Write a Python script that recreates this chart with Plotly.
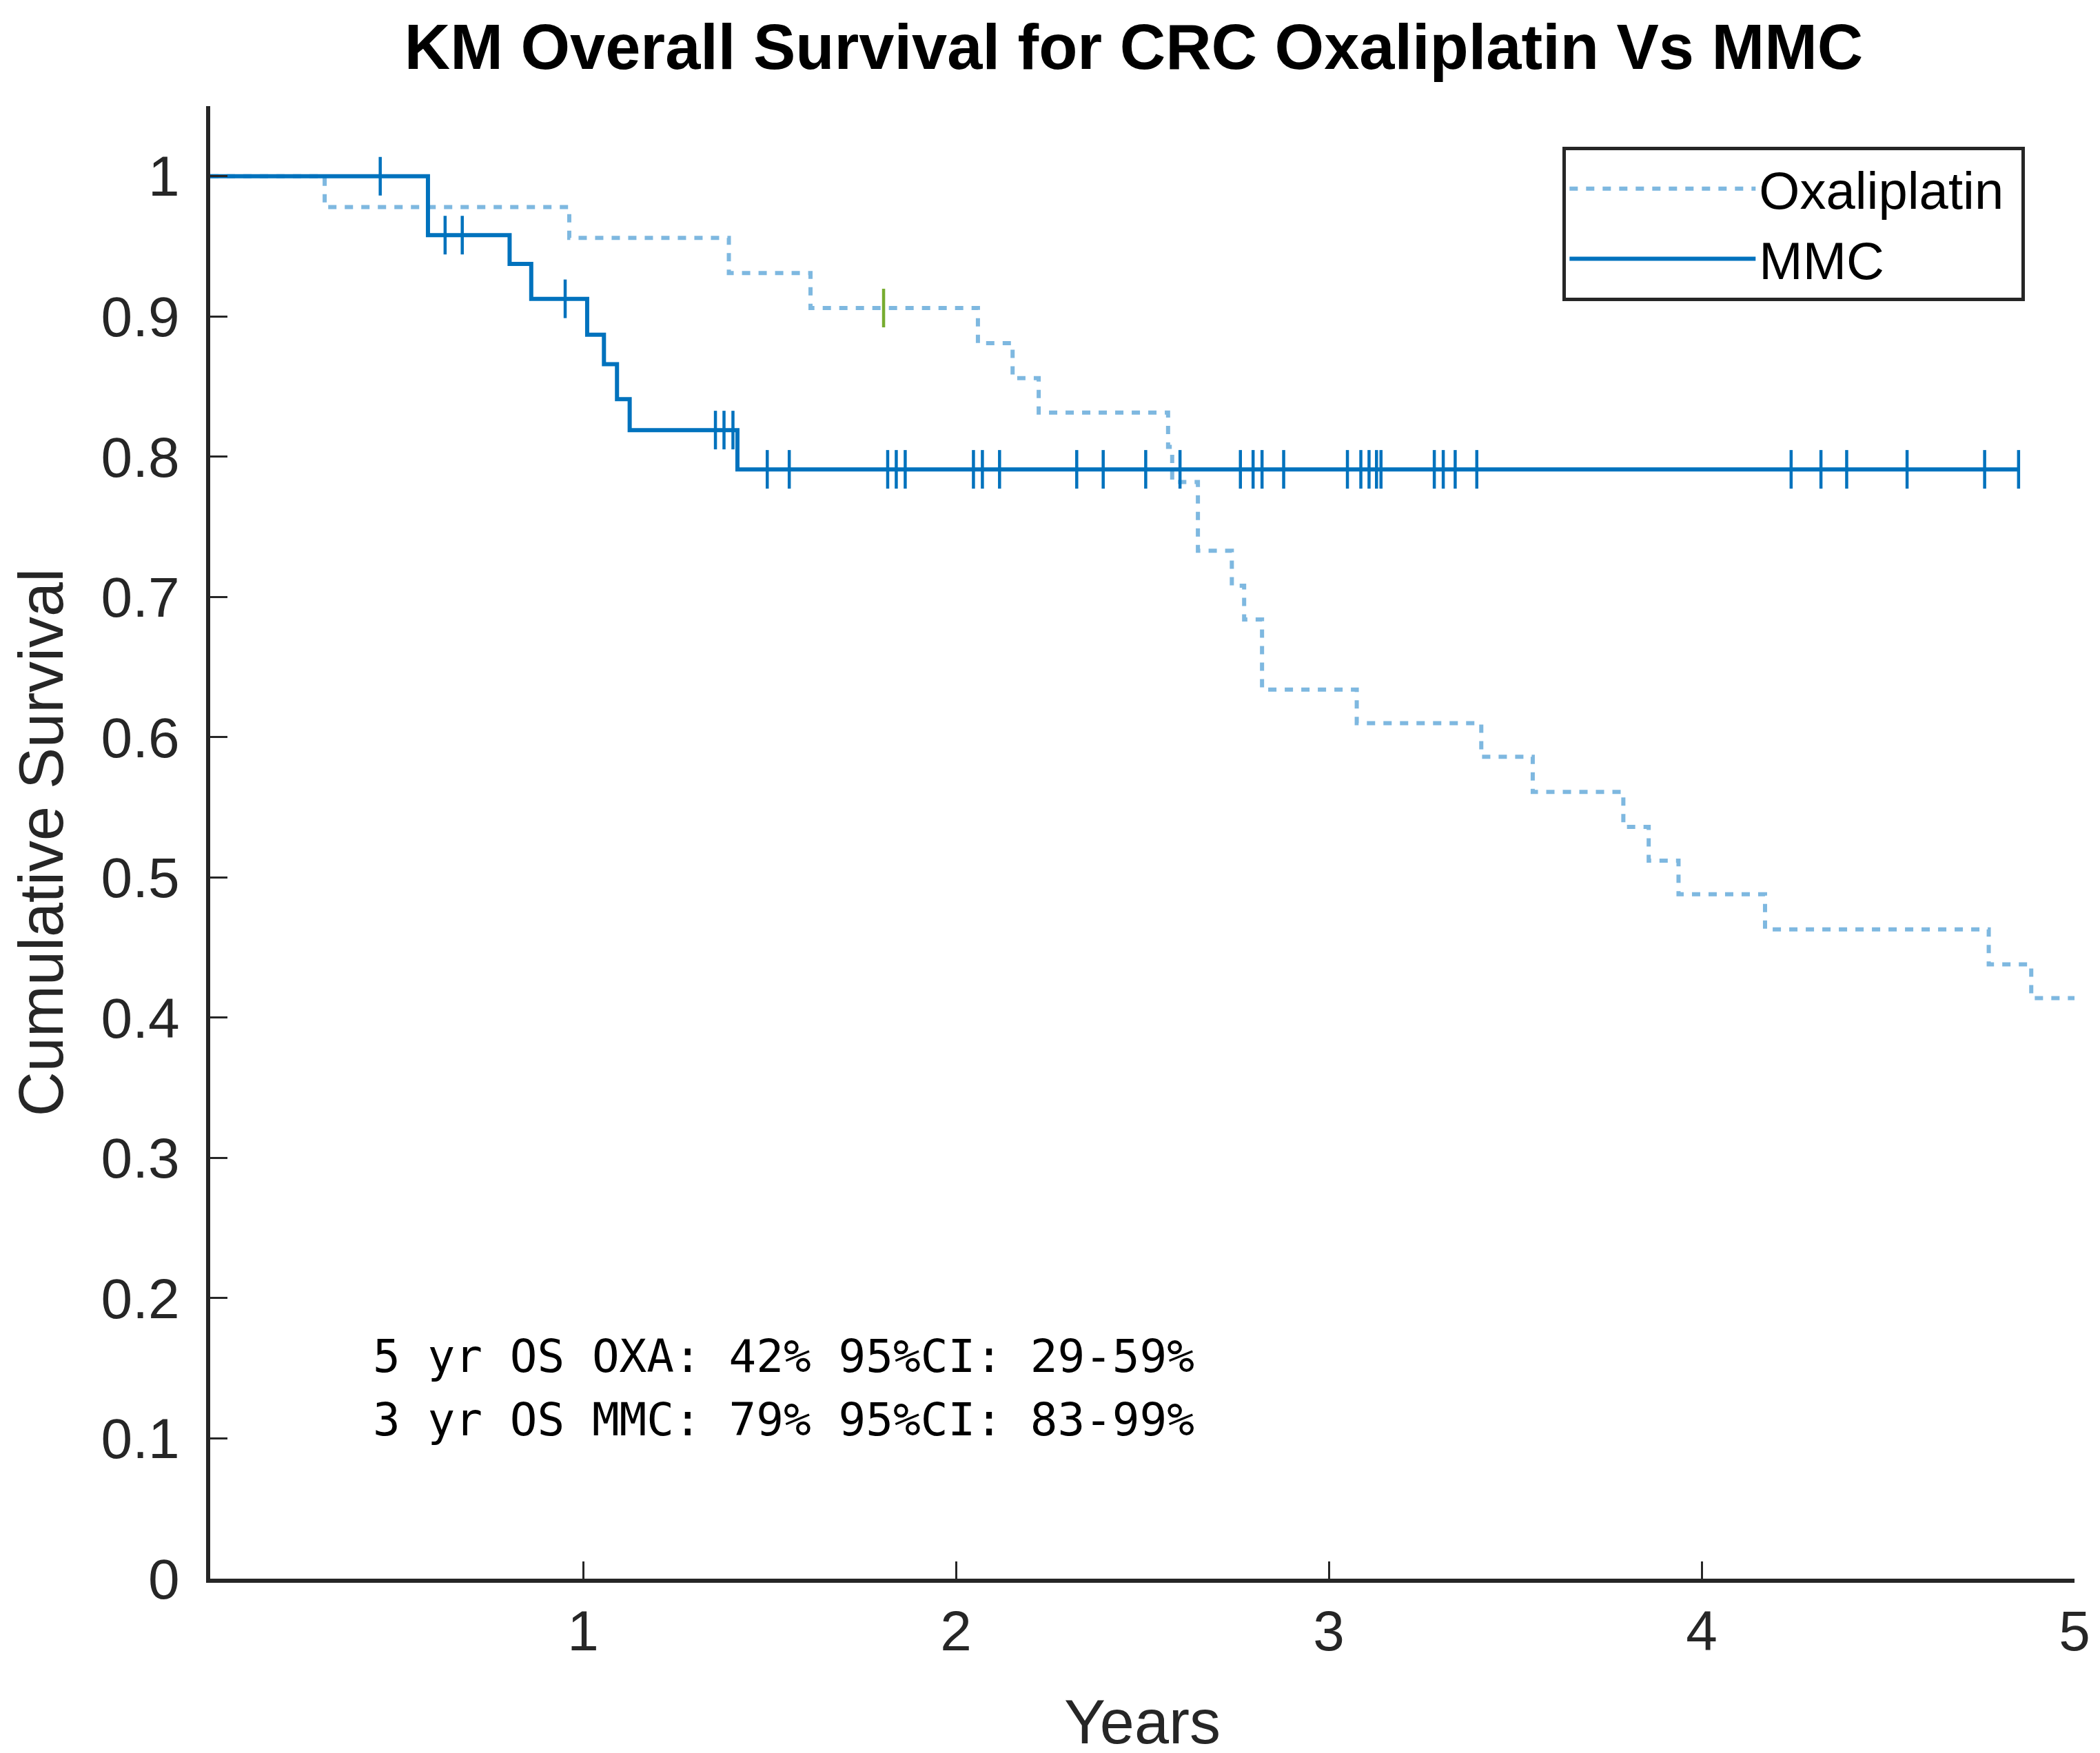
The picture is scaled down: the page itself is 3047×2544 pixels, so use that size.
import numpy as np
import plotly.graph_objects as go

# ---- data ----
oxa_time = [0, 0.307, 0.963, 1.391, 1.610, 2.059, 2.152, 2.222, 2.569, 2.580, 2.649,
            2.740, 2.773, 2.821, 3.075, 3.409, 3.547, 3.790, 3.858, 3.938, 4.170,
            4.770, 4.884, 5.0]
oxa_surv = [1.0, 0.978, 0.956, 0.931, 0.906, 0.881, 0.856, 0.8315, 0.807, 0.782, 0.733,
            0.708, 0.684, 0.634, 0.610, 0.586, 0.561, 0.536, 0.512, 0.488, 0.463,
            0.438, 0.414, 0.414]
oxa_censor = [1.806]

mmc_time = [0, 0.584, 0.803, 0.861, 1.011, 1.056, 1.091, 1.125, 1.414, 4.850]
mmc_surv = [1.0, 0.958, 0.9375, 0.9126, 0.887, 0.866, 0.841, 0.819, 0.791, 0.791]
mmc_censor = [0.456, 0.630, 0.676, 0.952, 1.355, 1.378, 1.402, 1.494, 1.553,
              1.817, 1.840, 1.864, 2.047, 2.071, 2.117, 2.324, 2.395, 2.509, 2.601,
              2.763, 2.797, 2.821, 2.879, 3.050, 3.086, 3.108, 3.128, 3.140,
              3.283, 3.307, 3.339, 3.397, 4.240, 4.320, 4.389, 4.551, 4.759, 4.850]

x_ticks = [1, 2, 3, 4, 5]
y_ticks = [0, 0.1, 0.2, 0.3, 0.4, 0.5, 0.6, 0.7, 0.8, 0.9, 1.0]
y_tick_text = ["0", "0.1", "0.2", "0.3", "0.4", "0.5", "0.6", "0.7", "0.8", "0.9", "1"]

series_names = ["Oxaliplatin", "MMC"]

stat_lines = ["5 yr OS OXA: 42% 95%CI: 29-59%",
              "3 yr OS MMC: 79% 95%CI: 83-99%"]
stat_x = 0.432
stat_y = [0.1585, 0.1135]

title_text = "KM Overall Survival for CRC Oxaliplatin Vs MMC"


def step_at(times, survs, t):
    idx = np.searchsorted(np.asarray(times), np.asarray(t), side="right") - 1
    return list(np.asarray(survs)[idx])


C_MMC = "#0072BD"
C_OXA = "#7EB8E0"
C_GREEN = "#77AC30"
AX = "#262626"
FONT = "Liberation Sans, Arial, sans-serif"

fig = go.Figure()

fig.add_trace(go.Scatter(x=oxa_time, y=oxa_surv, mode="lines", line_shape="hv",
                         name=series_names[0] + "\u00a0",
                         line=dict(color=C_OXA, width=6, dash="12px,12px")))
fig.add_trace(go.Scatter(x=mmc_time, y=mmc_surv, mode="lines", line_shape="hv",
                         name=series_names[1], line=dict(color=C_MMC, width=6)))
fig.add_trace(go.Scatter(x=mmc_censor, y=step_at(mmc_time, mmc_surv, mmc_censor),
                         mode="markers", showlegend=False, hoverinfo="skip",
                         marker=dict(symbol="line-ns", size=40, color=C_MMC,
                                     line=dict(color=C_MMC, width=4.5))))
fig.add_trace(go.Scatter(x=oxa_censor, y=step_at(oxa_time, oxa_surv, oxa_censor),
                         mode="markers", showlegend=False, hoverinfo="skip",
                         marker=dict(symbol="line-ns", size=40, color=C_GREEN,
                                     line=dict(color=C_GREEN, width=4.5))))

for txt, yy in zip(stat_lines, stat_y):
    fig.add_annotation(x=stat_x, y=yy, xref="x", yref="y", text=txt, showarrow=False,
                       xanchor="left", yanchor="middle",
                       font=dict(family="DejaVu Sans Mono, monospace", size=66, color="black"))

fig.update_layout(
    width=3047, height=2544,
    margin=dict(l=297, r=45, t=146, b=261, autoexpand=False),
    paper_bgcolor="white", plot_bgcolor="white",
    title=dict(text=title_text, x=0.4954, xref="paper", xanchor="center",
               y=1 - 60 / 2544, yref="container", yanchor="middle",
               font=dict(family=FONT, size=92, color="black", weight="bold")),
    legend=dict(x=0.9735, xanchor="right", y=0.9725, yanchor="top",
                bgcolor="white", bordercolor=AX, borderwidth=5,
                font=dict(family=FONT, size=76, color="black"),
                itemwidth=270, tracegroupgap=0),
    showlegend=True,
)

fig.update_xaxes(range=[0, 5], tickvals=x_ticks, ticks="inside", ticklen=25, tickwidth=3,
                 tickcolor=AX, showline=True, linewidth=6, linecolor=AX,
                 showgrid=False, zeroline=False,
                 tickfont=dict(family=FONT, size=82, color=AX),
                 title=dict(text="Years", font=dict(family=FONT, size=90, color=AX), standoff=58))
fig.update_yaxes(range=[0, 1.05], tickvals=y_ticks, ticktext=y_tick_text, ticks="inside",
                 ticklen=25, tickwidth=3, tickcolor=AX, showline=True, linewidth=6,
                 linecolor=AX, showgrid=False, zeroline=False, ticklabelstandoff=22,
                 tickfont=dict(family=FONT, size=82, color=AX),
                 title=dict(text="Cumulative Survival", font=dict(family=FONT, size=90, color=AX),
                            standoff=27))

fig.write_html("out.html")
